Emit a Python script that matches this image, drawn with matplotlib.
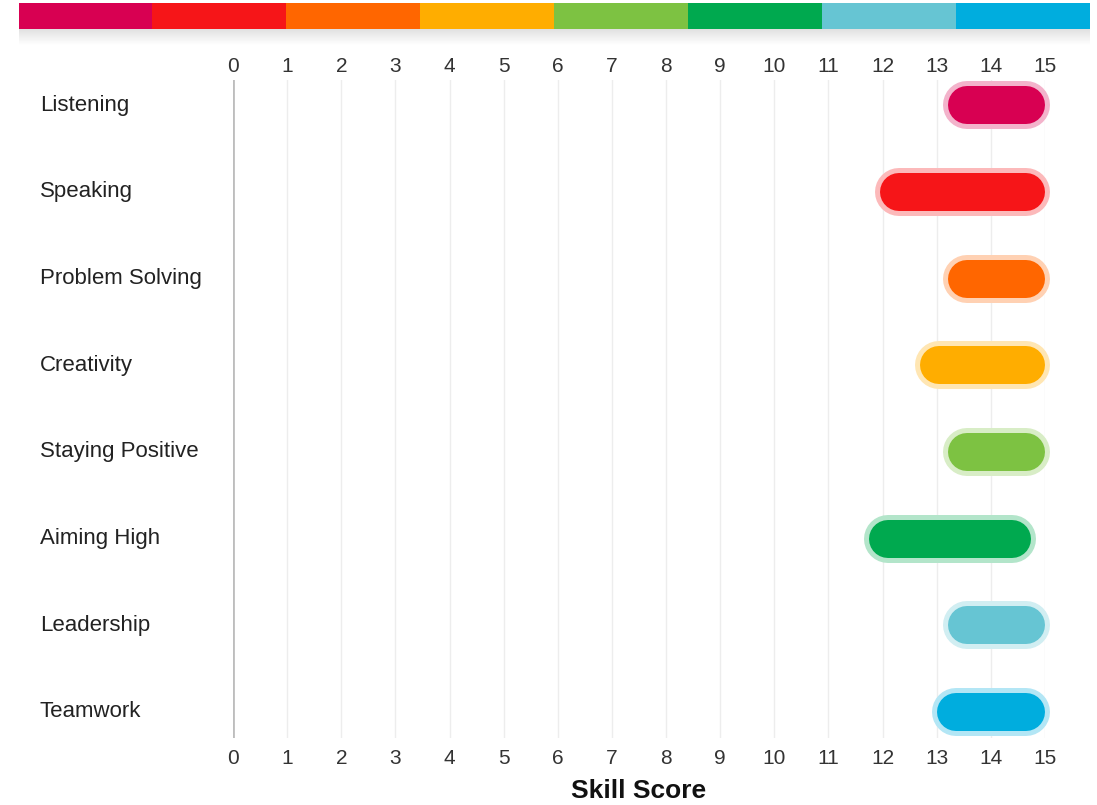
import numpy as np
import matplotlib.pyplot as plt
from matplotlib.colors import to_rgb
from matplotlib.transforms import blended_transform_factory

# skill ranges
skills = ['Listening', 'Speaking', 'Problem Solving', 'Creativity',
          'Staying Positive', 'Aiming High', 'Leadership', 'Teamwork']
low = [13.2, 11.95, 13.2, 12.7, 13.2, 11.75, 13.2, 13.0]
high = [15, 15, 15, 15, 15, 14.75, 15, 15]
colors = ['#D80052', '#F61518', '#FF6600', '#FFAD00',
          '#7DC242', '#00A94F', '#66C5D3', '#00ADDE']
ticks = list(range(0, 16))

plt.rcParams['font.family'] = ['Liberation Sans', 'DejaVu Sans']

W, H = 1097, 805
fig = plt.figure(figsize=(W / 100, H / 100), dpi=100)

# colour band at the top, with a soft shadow under it
band = fig.add_axes([19 / W, 1 - 29 / H, (1090 - 19) / W, 26 / H])
band.imshow(np.array([[to_rgb(c) for c in colors]]), aspect='auto',
            extent=[0, len(colors), 0, 1], interpolation='nearest')
band.axis('off')
shadow = fig.add_axes([19 / W, 1 - 45 / H, (1090 - 19) / W, 16 / H])
grad = np.linspace(0.88, 1.0, 50).reshape(-1, 1)
shadow.imshow(grad, aspect='auto', cmap='gray', vmin=0, vmax=1)
shadow.axis('off')

# main chart
x0, x1 = 233, 1045
y_top, y_bot = 80, 738
ax = fig.add_axes([x0 / W, 1 - y_bot / H, (x1 - x0) / W, (y_bot - y_top) / H])
ax.set_xlim(0, 15)
ax.set_ylim(7.3, -0.29)

for t in ticks[1:]:
    ax.axvline(t, color='#EDEDED', lw=1, zorder=0)
ax.axvline(0, color='#BDBDBD', lw=2, zorder=1)

px_per_unit = (x1 - x0) / 15
inner_w = 38 * 72 / 100
halo_w = 48 * 72 / 100
cap = 19 / px_per_unit  # round cap overhang in data units

for i, (a, b, c) in enumerate(zip(low, high, colors)):
    rgb = np.array(to_rgb(c))
    light = 1 - 0.3 * (1 - rgb)
    ax.plot([a + cap, b - cap], [i, i], color=light, lw=halo_w,
            solid_capstyle='round', zorder=2, clip_on=False)
    ax.plot([a + cap, b - cap], [i, i], color=c, lw=inner_w,
            solid_capstyle='round', zorder=3, clip_on=False)

ax.set_xticks(ticks)
ax.set_yticks([])
ax.tick_params(axis='x', length=0, labelsize=15, labelcolor='#333333', pad=8)
top = ax.secondary_xaxis('top')
top.set_xticks(ticks)
top.tick_params(length=0, labelsize=15, labelcolor='#333333', pad=3)
top.spines['top'].set_visible(False)
for s in ax.spines.values():
    s.set_visible(False)

trans = blended_transform_factory(fig.transFigure, ax.transData)
for i, name in enumerate(skills):
    ax.text(40 / W, i, name, transform=trans, ha='left', va='center',
            fontsize=16, color='#222222')

fig.text((x0 + x1) / 2 / W, 1 - 791 / H, 'Skill Score', ha='center',
         va='center', fontsize=19, fontweight='bold', color='#111111')

fig.savefig('out.png', dpi=100)
